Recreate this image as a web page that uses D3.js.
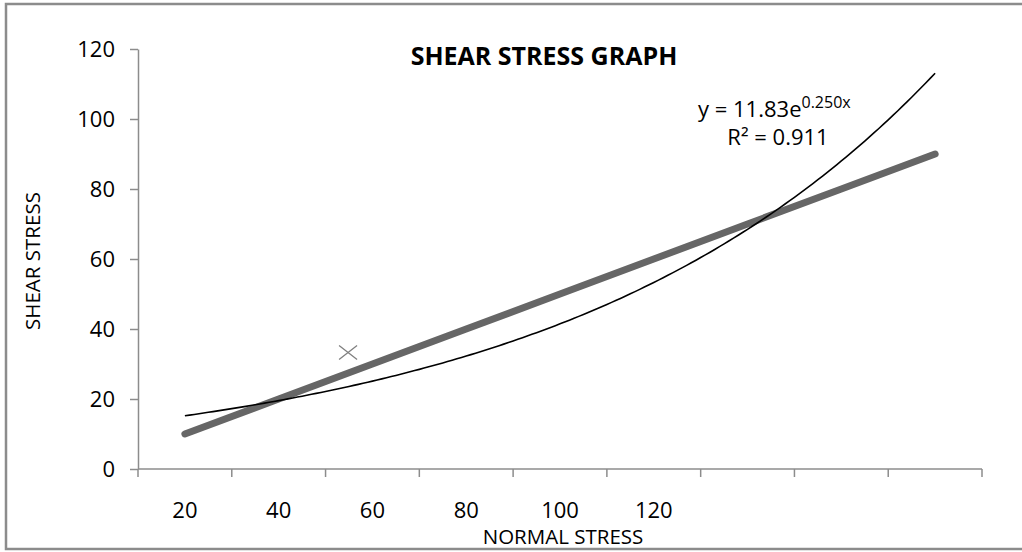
<!DOCTYPE html>
<html>
<head>
<meta charset="utf-8">
<script src="https://cdn.jsdelivr.net/npm/d3@7"></script>
<style>
  body { margin: 0; background: #fff; }
  svg { display: block; font-family: "Open Sans", sans-serif; }
</style>
</head>
<body>
<svg id="canvas" width="1022" height="552"></svg>
<script>
// category labels (only the first six are labelled in the original)
let categories = ['20', '40', '60', '80', '100', '120', '', '', ''];
let shearValues = [10, 20, 30, 40, 50, 60, 70, 80, 90];
// stray marker sitting between categories 2 and 3
let extraPoints = [{ pos: 1.74, value: 33.3 }];
let yTicks = [0, 20, 40, 60, 80, 100, 120];

let eqText = 'y = 11.83e';
let eqExp = '0.250x';
let r2Text = 'R² = 0.911';

let canvas = d3.select('#canvas');
let plotLeft = 138, plotRight = 982, plotTop = 49, plotBottom = 469;

// outer frame
canvas.append('rect')
  .attr('x', 6).attr('y', 4)
  .attr('width', 1030).attr('height', 545)
  .attr('fill', 'none')
  .attr('stroke', '#8c8c8c')
  .attr('stroke-width', 2.5);

let x = d3.scaleBand()
  .domain(d3.range(categories.length))
  .range([plotLeft, plotRight])
  .paddingInner(0).paddingOuter(0);
let step = x.step();
let xc = (i) => x(0) + step / 2 + i * step;

let y = d3.scaleLinear().domain([0, 120]).range([plotBottom, plotTop]);

// y axis
let yAxis = d3.axisLeft(y).tickValues(yTicks).tickSize(8).tickSizeOuter(0);
let gy = canvas.append('g').attr('transform', `translate(${plotLeft},0)`).call(yAxis);
gy.select('.domain').attr('stroke', '#8c8c8c').attr('stroke-width', 1.5);
gy.selectAll('.tick line').attr('stroke', '#8c8c8c').attr('stroke-width', 1.5);
gy.selectAll('.tick text')
  .attr('x', -23)
  .attr('font-size', 22)
  .attr('font-family', '"Open Sans", sans-serif')
  .attr('fill', '#000');

// x axis: line plus tick marks between categories
canvas.append('line')
  .attr('x1', plotLeft).attr('x2', plotRight)
  .attr('y1', plotBottom).attr('y2', plotBottom)
  .attr('stroke', '#8c8c8c').attr('stroke-width', 1.5);
canvas.selectAll('.xtick')
  .data(d3.range(categories.length + 1))
  .enter()
  .append('line')
  .attr('class', 'xtick')
  .attr('x1', (i) => plotLeft + i * step).attr('x2', (i) => plotLeft + i * step)
  .attr('y1', plotBottom).attr('y2', plotBottom + 8)
  .attr('stroke', '#8c8c8c').attr('stroke-width', 1.5);
canvas.selectAll('.xlabel')
  .data(categories)
  .enter()
  .append('text')
  .attr('class', 'xlabel')
  .attr('x', (d, i) => xc(i))
  .attr('y', 518)
  .attr('text-anchor', 'middle')
  .attr('font-size', 22)
  .text((d) => d);

// titles
canvas.append('text')
  .attr('x', 544).attr('y', 65)
  .attr('text-anchor', 'middle')
  .attr('font-size', 25).attr('font-weight', 'bold')
  .text('SHEAR STRESS GRAPH');
canvas.append('text')
  .attr('x', 563).attr('y', 544)
  .attr('text-anchor', 'middle')
  .attr('font-size', 20.5)
  .text('NORMAL STRESS');
canvas.append('text')
  .attr('transform', 'translate(40,261) rotate(-90)')
  .attr('text-anchor', 'middle')
  .attr('font-size', 20.5)
  .text('SHEAR STRESS');

// data series
let line = d3.line().x((d, i) => xc(i)).y((d) => y(d));
canvas.append('path')
  .datum(shearValues)
  .attr('d', line)
  .attr('fill', 'none')
  .attr('stroke', '#666666')
  .attr('stroke-width', 7)
  .attr('stroke-linecap', 'round')
  .attr('stroke-linejoin', 'round');

// exponential trendline fitted on ln(y) like Excel does
let xs = shearValues.map((d, i) => i + 1);
let ls = shearValues.map((d) => Math.log(d));
let mx = d3.mean(xs), ml = d3.mean(ls);
let b = d3.sum(xs, (v, i) => (v - mx) * (ls[i] - ml)) / d3.sum(xs, (v) => (v - mx) * (v - mx));
let a = Math.exp(ml - b * mx);
let trend = d3.range(1, 9.001, 0.05).map((t) => ({ t: t, v: a * Math.exp(b * t) }));
canvas.append('path')
  .datum(trend)
  .attr('d', d3.line().x((d) => xc(d.t - 1)).y((d) => y(d.v)))
  .attr('fill', 'none')
  .attr('stroke', '#000')
  .attr('stroke-width', 1.6);

// cross marker
canvas.selectAll('.cross')
  .data(extraPoints)
  .enter()
  .append('path')
  .attr('class', 'cross')
  .attr('transform', (d) => `translate(${xc(d.pos)},${y(d.value)})`)
  .attr('d', 'M-9,-7L9,7M-9,7L9,-7')
  .attr('stroke', '#808080')
  .attr('stroke-width', 1.3)
  .attr('fill', 'none');

// equation label
let eq = canvas.append('text')
  .attr('x', 698).attr('y', 117)
  .attr('font-size', 22);
eq.append('tspan').text(eqText);
eq.append('tspan').attr('dy', -9).attr('font-size', 16).text(eqExp);
canvas.append('text')
  .attr('x', 778).attr('y', 145)
  .attr('text-anchor', 'middle')
  .attr('font-size', 22)
  .text(r2Text);
</script>
</body>
</html>
